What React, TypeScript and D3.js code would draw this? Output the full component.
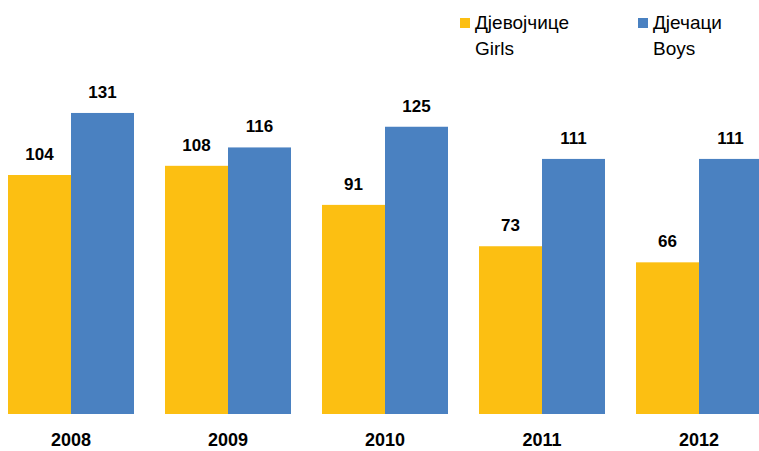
import * as d3 from "d3";
import { useEffect, useRef } from "react";

const years = ["2008", "2009", "2010", "2011", "2012"];
const girls = [104, 108, 91, 73, 66];
const boys = [131, 116, 125, 111, 111];
const seriesKeys = ["girls", "boys"];
const seriesLabels = [
  ["Дјевојчице", "Girls"],
  ["Дјечаци", "Boys"],
];

const colors = ["#FCBF12", "#4A81C1"];

export default function App() {
  const ref = useRef<SVGSVGElement>(null);

  useEffect(() => {
    const width = 759;
    const height = 451;
    const svg = d3.select(ref.current);
    svg.selectAll("*").remove();

    // scales
    const x = d3
      .scaleBand<string>()
      .domain(years)
      .range([-7.5, 777.5])
      .paddingInner(31 / 157)
      .paddingOuter(31 / 314);
    const xInner = d3
      .scaleBand<string>()
      .domain(seriesKeys)
      .range([0, x.bandwidth()]);
    const y = d3.scaleLinear().domain([0, 140]).range([414, 414 - 140 * 2.298]);

    const font = "'Liberation Sans', Arial, sans-serif";

    const groups = svg
      .append("g")
      .selectAll("g")
      .data(years)
      .enter()
      .append("g")
      .attr("transform", (d) => `translate(${x(d)},0)`);

    // bars + value labels
    [girls, boys].forEach((vals, s) => {
      groups
        .append("rect")
        .attr("x", xInner(seriesKeys[s])!)
        .attr("y", (_, i) => y(vals[i]))
        .attr("width", xInner.bandwidth())
        .attr("height", (_, i) => y(0) - y(vals[i]))
        .attr("fill", colors[s]);
      groups
        .append("text")
        .attr("x", xInner(seriesKeys[s])! + xInner.bandwidth() / 2)
        .attr("y", (_, i) => y(vals[i]) - 15)
        .attr("text-anchor", "middle")
        .attr("font-family", font)
        .attr("font-weight", "bold")
        .attr("font-size", 17)
        .attr("fill", "#000")
        .text((_, i) => vals[i]);
    });

    // year labels
    groups
      .append("text")
      .attr("x", x.bandwidth() / 2)
      .attr("y", 446)
      .attr("text-anchor", "middle")
      .attr("font-family", font)
      .attr("font-weight", "bold")
      .attr("font-size", 18)
      .attr("fill", "#000")
      .text((d) => d);

    // legend
    const legendX = [460, 638];
    seriesLabels.forEach((lines, s) => {
      const g = svg.append("g").attr("transform", `translate(${legendX[s]},0)`);
      g.append("rect")
        .attr("x", 0)
        .attr("y", 18)
        .attr("width", 10)
        .attr("height", 10)
        .attr("fill", colors[s]);
      g.selectAll("text.l")
        .data(lines)
        .enter()
        .append("text")
        .attr("x", 15)
        .attr("y", (_, i) => 29 + i * 26)
        .attr("font-family", font)
        .attr("font-size", 19)
        .attr("fill", "#000")
        .text((d) => d);
    });

    svg.attr("width", width).attr("height", height);
  }, []);

  return (
    <svg
      ref={ref}
      width={759}
      height={451}
      style={{ position: "absolute", left: 0, top: 0, background: "#fff" }}
    ></svg>
  );
}
